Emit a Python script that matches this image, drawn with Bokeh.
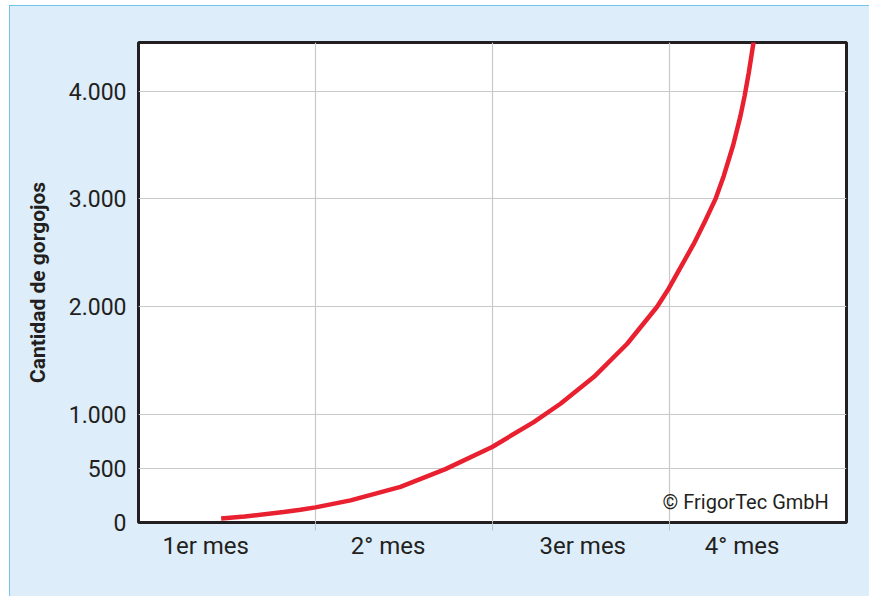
from bokeh.plotting import figure
from bokeh.models import FixedTicker, Label
from bokeh.embed import file_html
from bokeh.resources import INLINE

# --- data ---
month_labels = ["1er mes", "2° mes", "3er mes", "4° mes"]
month_label_pos = [0.38, 1.41, 2.51, 3.41]
month_bounds = [1, 2, 3]

y_ticks = [0, 500, 1000, 2000, 3000, 4000]
y_tick_labels = ["0", "500", "1.000", "2.000", "3.000", "4.000"]

time_months = [0.467, 0.6, 0.82, 0.915, 1.0, 1.198, 1.48, 1.734, 1.998, 2.233,
               2.384, 2.572, 2.761, 2.93, 2.996, 3.137, 3.2, 3.26, 3.307, 3.36,
               3.401, 3.425, 3.448, 3.476, 3.49]
weevils = [37, 55, 97, 118, 140, 205, 330, 495, 700, 931,
           1101, 1348, 1657, 2000, 2170, 2583, 2790, 3000, 3215, 3500,
           3770, 3960, 4170, 4465, 4620]

TEXT = "#231f20"
BG = "#ddedf9"

p = figure(width=860, height=591, output_backend="svg", toolbar_location=None,
           x_range=(0, 4), y_range=(0, 4450),
           min_border_left=129, min_border_right=23,
           min_border_top=37, min_border_bottom=74)

p.background_fill_color = "white"
p.border_fill_color = BG
p.outline_line_color = TEXT
p.outline_line_width = 3
p.styles = {"margin-left": "9px", "margin-top": "5px",
            "outline": "2px solid #4cb8e8", "outline-offset": "-2px"}

p.line(time_months, weevils, line_color="#e8202f", line_width=4.5)

# x axis
p.xaxis.ticker = FixedTicker(ticks=month_label_pos, minor_ticks=month_bounds)
p.xaxis.major_label_overrides = {v: t for v, t in zip(month_label_pos, month_labels)}
p.xaxis.major_tick_line_color = None
p.xaxis.major_tick_out = 0
p.xaxis.major_tick_in = 0
p.xaxis.minor_tick_line_color = "#c4c4c4"
p.xaxis.minor_tick_out = 8
p.xaxis.minor_tick_in = 0
p.xaxis.axis_line_color = None
p.xaxis.major_label_standoff = 1
p.xaxis.major_label_text_font = "Roboto"
p.xaxis.major_label_text_font_size = "24px"
p.xaxis.major_label_text_color = TEXT

# y axis
p.yaxis.ticker = FixedTicker(ticks=y_ticks)
p.yaxis.major_label_overrides = {v: t for v, t in zip(y_ticks, y_tick_labels)}
p.yaxis.major_tick_line_color = None
p.yaxis.major_tick_out = 0
p.yaxis.major_tick_in = 0
p.yaxis.minor_tick_line_color = None
p.yaxis.axis_line_color = None
p.yaxis.major_label_standoff = 12
p.yaxis.major_label_text_font = "Roboto"
p.yaxis.major_label_text_font_size = "23px"
p.yaxis.major_label_text_color = TEXT
p.yaxis.axis_label = "Cantidad de gorgojos"
p.yaxis.axis_label_text_font = "Roboto"
p.yaxis.axis_label_text_font_style = "bold"
p.yaxis.axis_label_text_font_size = "21px"
p.yaxis.axis_label_text_color = TEXT
p.yaxis.axis_label_standoff = 16

# grids
p.xgrid.ticker = FixedTicker(ticks=month_bounds)
p.ygrid.ticker = FixedTicker(ticks=y_ticks[1:])
p.xgrid.grid_line_color = "#c8c8c8"
p.ygrid.grid_line_color = "#c8c8c8"
p.xgrid.grid_line_width = 1.2
p.ygrid.grid_line_width = 1.2

p.add_layout(Label(x=3.9, y=190, text="© FrigorTec GmbH", text_align="right",
                   text_baseline="alphabetic", text_font="Roboto",
                   text_font_size="20px", text_color=TEXT))

open("out.html", "w").write(file_html(p, INLINE))
